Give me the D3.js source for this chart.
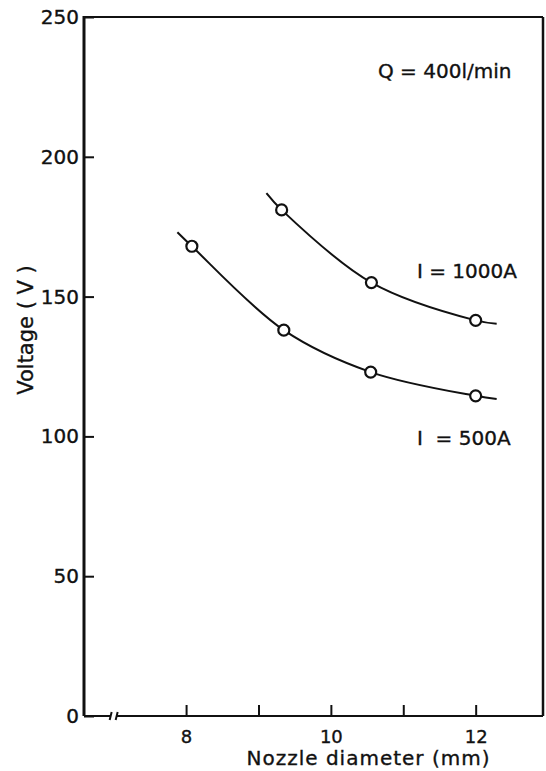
<!DOCTYPE html>
<html>
<head>
<meta charset="utf-8">
<script src="https://cdn.jsdelivr.net/npm/d3@7"></script>
<style>
  body { margin: 0; background: #fff; }
  svg { display: block; font-family: "DejaVu Sans", sans-serif; }
  text { fill: #111; stroke: #111; stroke-width: 0.35px; }
</style>
</head>
<body>
<div id="chart"></div>
<script>
// measured points (nozzle diameter mm, voltage V)
const diam1000 = [9.32, 10.56, 12.0];
const volt1000 = [181, 155, 141.5];
const diam500 = [8.08, 9.35, 10.55, 12.0];
const volt500 = [168, 138, 123, 114.5];

// hand-drawn fitted curves, incl. the short extensions past the end points
const fitDiam1000 = [9.11, 9.32, 10.56, 12.0, 12.29];
const fitVolt1000 = [187, 181, 155, 141.5, 140.3];
const fitDiam500 = [7.88, 8.08, 9.35, 10.55, 12.0, 12.29];
const fitVolt500 = [173, 168, 138, 123, 114.5, 113.4];

const xTicks = [8, 9, 10, 11, 12];
const xTickLabels = [8, 10, 12];
const yTicks = [0, 50, 100, 150, 200, 250];

const width = 546, height = 771;
const plotLeft = 84, plotRight = 543, plotTop = 17, plotBottom = 716;

const svg = d3.select("#chart").append("svg")
    .attr("width", width)
    .attr("height", height);

const x = d3.scaleLinear().domain([6.59, 12.93]).range([plotLeft, plotRight]);
const y = d3.scaleLinear().domain([0, 250]).range([plotBottom, plotTop]);

// y axis, ticks pointing inward
const yAxis = svg.append("g")
    .attr("transform", `translate(${plotLeft},0)`)
    .call(d3.axisLeft(y).tickValues(yTicks).tickSizeInner(-10).tickSizeOuter(0).tickPadding(5));
yAxis.select(".domain").remove();
yAxis.selectAll(".tick line").attr("stroke-width", 2).attr("stroke", "#111");
yAxis.selectAll(".tick text").attr("font-size", 20).attr("font-family", "DejaVu Sans").attr("fill", "#111");

// x axis
const xAxis = svg.append("g")
    .attr("transform", `translate(0,${plotBottom})`)
    .call(d3.axisBottom(x).tickValues(xTicks).tickSizeInner(-11).tickSizeOuter(0).tickPadding(14)
        .tickFormat(d => xTickLabels.includes(d) ? d : ""));
xAxis.select(".domain").remove();
xAxis.selectAll(".tick line").attr("stroke-width", 2).attr("stroke", "#111");
xAxis.selectAll(".tick text").attr("font-size", 18).attr("font-family", "DejaVu Sans").attr("fill", "#111");

// frame with axis break near 7 mm
const xBreak = 7.0;
const frame = svg.append("g").attr("stroke", "#111").attr("fill", "none");
frame.append("line").attr("x1", plotLeft).attr("y1", plotTop - 1).attr("x2", plotLeft).attr("y2", plotBottom).attr("stroke-width", 3);
frame.append("line").attr("x1", plotLeft).attr("y1", plotTop).attr("x2", plotRight).attr("y2", plotTop).attr("stroke-width", 2);
frame.append("line").attr("x1", plotRight).attr("y1", plotTop).attr("x2", plotRight).attr("y2", plotBottom).attr("stroke-width", 2.5);
frame.append("line").attr("x1", plotLeft).attr("y1", plotBottom).attr("x2", x(xBreak) - 3).attr("y2", plotBottom).attr("stroke-width", 2);
frame.append("line").attr("x1", x(xBreak) + 3).attr("y1", plotBottom).attr("x2", plotRight).attr("y2", plotBottom).attr("stroke-width", 2);
[-3, 3].forEach(dx => {
  frame.append("line")
      .attr("x1", x(xBreak) + dx - 1).attr("y1", plotBottom + 4)
      .attr("x2", x(xBreak) + dx + 1).attr("y2", plotBottom - 4)
      .attr("stroke-width", 2);
});

// curves
const line = d3.line()
    .x(d => x(d[0]))
    .y(d => y(d[1]))
    .curve(d3.curveCatmullRom.alpha(0.5));

const curves = [
  d3.zip(fitDiam1000, fitVolt1000),
  d3.zip(fitDiam500, fitVolt500)
];
svg.append("g").selectAll("path")
    .data(curves)
    .enter()
    .append("path")
    .attr("d", line)
    .attr("fill", "none")
    .attr("stroke", "#111")
    .attr("stroke-width", 2);

// markers
const points = d3.zip(diam1000, volt1000).concat(d3.zip(diam500, volt500));
svg.append("g").selectAll("circle")
    .data(points)
    .enter()
    .append("circle")
    .attr("cx", d => x(d[0]))
    .attr("cy", d => y(d[1]))
    .attr("r", 5.5)
    .attr("fill", "#fff")
    .attr("stroke", "#111")
    .attr("stroke-width", 2.2);

// labels
svg.append("text")
    .attr("x", 378).attr("y", 78)
    .attr("font-size", 20)
    .text("Q = 400l/min");

svg.append("text")
    .attr("x", 417).attr("y", 278)
    .attr("font-size", 20)
    .text("I = 1000A");

svg.append("text")
    .attr("x", 417).attr("y", 445)
    .attr("font-size", 20)
    .style("white-space", "pre")
    .text("I  = 500A");

svg.append("text")
    .attr("x", (246 + 491) / 2).attr("y", 765)
    .attr("text-anchor", "middle")
    .attr("font-size", 20)
    .attr("letter-spacing", 1)
    .text("Nozzle diameter (mm)");

svg.append("text")
    .attr("transform", "translate(33,330)rotate(-90)")
    .attr("text-anchor", "middle")
    .attr("font-size", 21)
    .style("white-space", "pre")
    .text("Voltage ( V )");
</script>
</body>
</html>
